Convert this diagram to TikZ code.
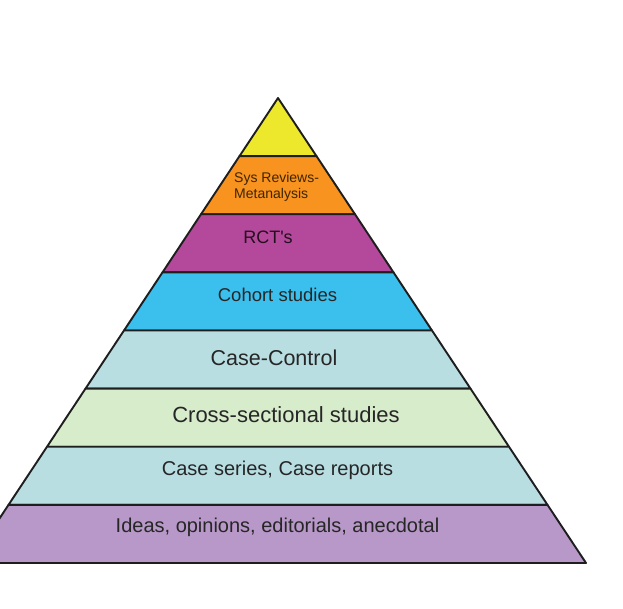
\documentclass[tikz,border=0pt]{standalone}
\usepackage{fontspec}
\setmainfont{Liberation Sans}
\definecolor{cYel}{HTML}{EEE82C}
\definecolor{cOra}{HTML}{F7931E}
\definecolor{cMag}{HTML}{B4489B}
\definecolor{cCya}{HTML}{3BBFEC}
\definecolor{cLbl}{HTML}{B8DEE2}
\definecolor{cGrn}{HTML}{D7ECCB}
\definecolor{cLav}{HTML}{B898C8}
\definecolor{lineC}{HTML}{1E1E1E}
\definecolor{txtC}{HTML}{262626}
\tikzset{
  band/.style={draw=lineC, line width=1.9pt, line join=round},
  lbl/.style={inner sep=0pt, text=txtC, anchor=base},
}
\begin{document}
\begin{tikzpicture}[x=1pt,y=-1pt]
\useasboundingbox (0,0) rectangle (623,608);
\fill[white] (0,0) rectangle (623,608);
\clip (0,0) rectangle (623,608);
\foreach \i/\col in {0/cYel,1/cOra,2/cMag,3/cCya,4/cLbl,5/cGrn,6/cLbl,7/cLav} {
  \pgfmathsetmacro\ytop{98+\i*58.125}
  \pgfmathsetmacro\ybot{98+(\i+1)*58.125}
  \pgfmathsetmacro\wt{(\ytop-98)*0.6624}
  \pgfmathsetmacro\wb{(\ybot-98)*0.6624}
  \filldraw[band, fill=\col] (278-\wt,\ytop) -- (278+\wt,\ytop) -- (278+\wb,\ybot) -- (278-\wb,\ybot) -- cycle;
}
\node[lbl, anchor=base west, font=\fontsize{14}{16}\selectfont, text=black!75!cOra] (sys1) at (234,182) {Sys Reviews-};
\node[lbl, anchor=base west, font=\fontsize{14}{16}\selectfont, text=black!75!cOra] (sys2) at (234,198) {Metanalysis};
\node[lbl, font=\fontsize{18}{20}\selectfont, text=black!80!cMag] (rct) at (268,243) {RCT\textquotesingle s};
\node[lbl, font=\fontsize{18.5}{21}\selectfont] (coh) at (277.5,301) {Cohort studies};
\node[lbl, font=\fontsize{21.5}{24}\selectfont] (cc) at (274,365) {Case-Control};
\node[lbl, font=\fontsize{22}{25}\selectfont] (cs) at (286,422) {Cross-sectional studies};
\node[lbl, font=\fontsize{20}{23}\selectfont] (ser) at (277.5,475) {Case series, Case reports};
\node[lbl, font=\fontsize{20}{23}\selectfont] (ide) at (277.5,532) {Ideas, opinions, editorials, anecdotal};
\end{tikzpicture}
\end{document}
